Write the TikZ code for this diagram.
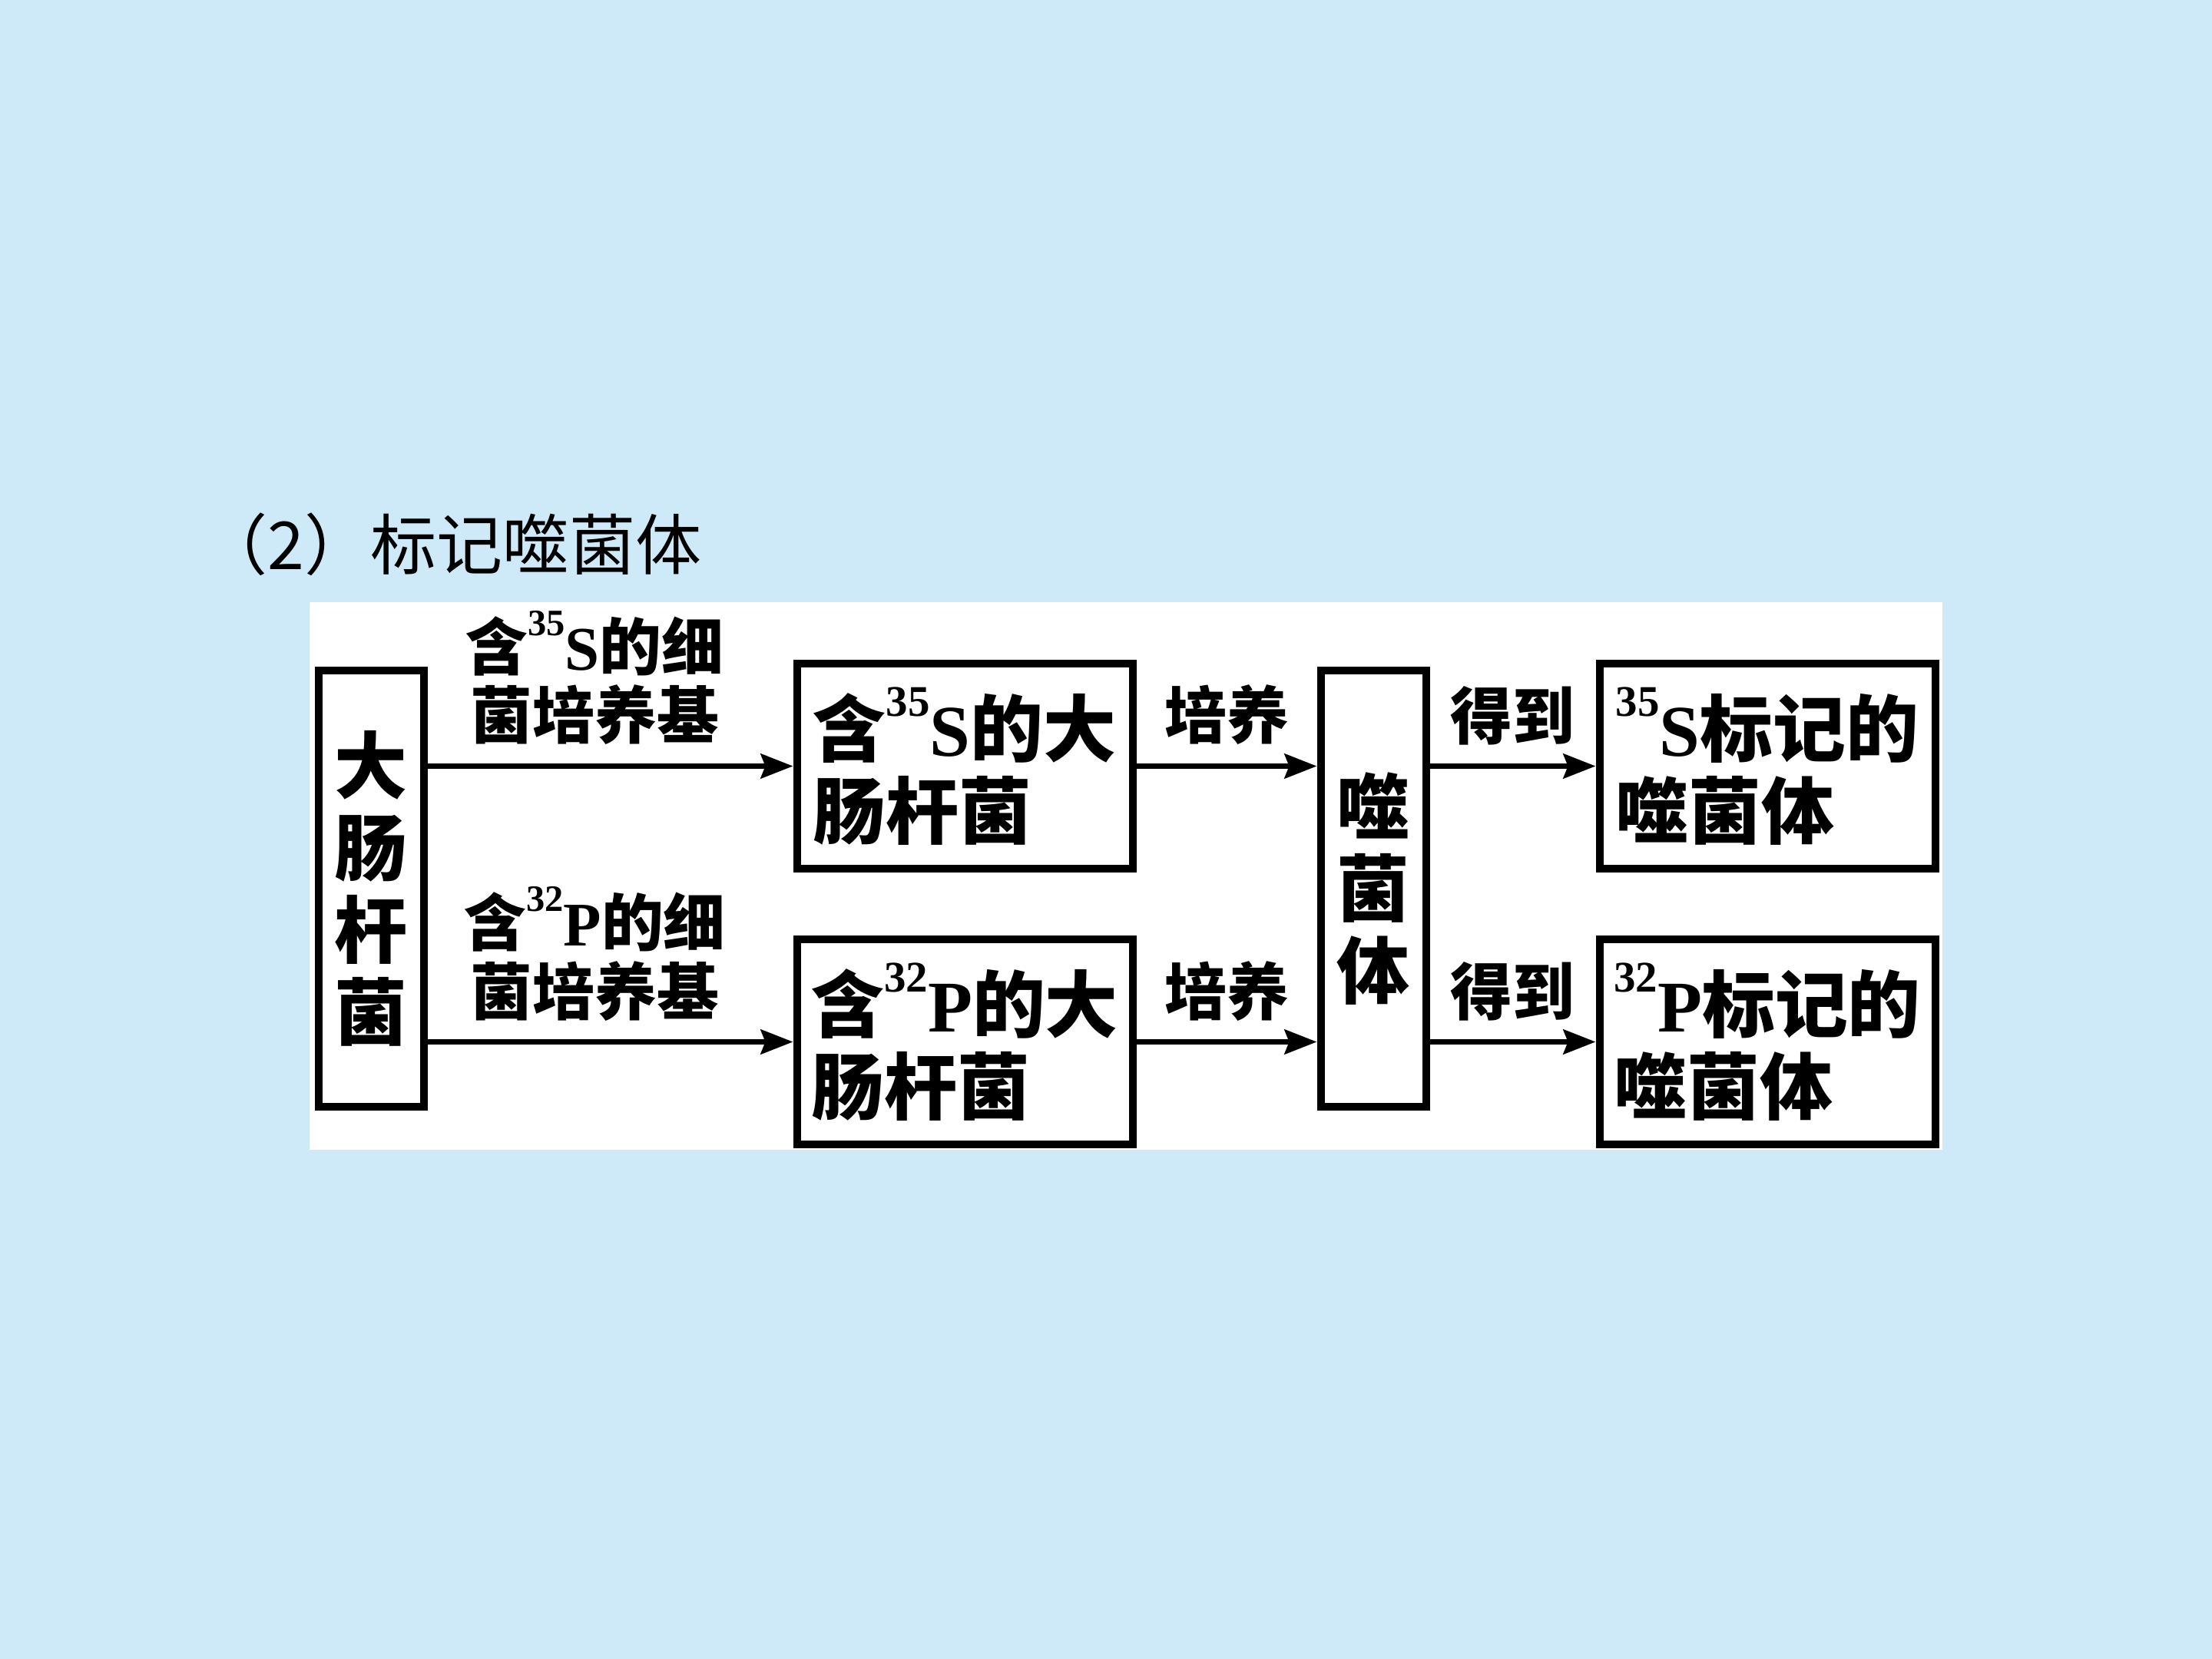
\documentclass[tikz,border=0pt]{standalone}
\usepackage{fontspec}
\setmainfont{Liberation Serif}
\newfontfamily\cjk{Noto Sans CJK SC}
\newfontfamily\lat{Liberation Serif}
\usetikzlibrary{arrows.meta, positioning}
\definecolor{bgblue}{RGB}{206,233,248}
\newcommand{\iso}[2]{{\lat\bfseries\raisebox{0.55em}{\scalebox{0.6}{#1}}#2}}

\begin{document}
\begin{tikzpicture}[
    box/.style={rectangle, draw=black, line width=0.1cm, fill=white,
                minimum width=4.37cm, minimum height=2.67cm, inner sep=0pt,
                align=left, font=\cjk\bfseries\fontsize{27}{30.4}\selectfont},
    tallbox/.style={box, minimum width=1.37cm, minimum height=5.68cm, align=center},
    lbl/.style={inner sep=0pt, align=center,
                font=\cjk\bfseries\fontsize{23}{25.6}\selectfont},
    arr/.style={-{Stealth[length=0.42cm, width=0.32cm, inset=0.06cm]}, line width=0.07cm}
]
\fill[bgblue] (0,0) rectangle (28.8,-21.6);
\useasboundingbox (0,0) rectangle (28.8,-21.6);
\fill[white] (4.03,-7.84) rectangle (25.29,-14.97);

\node[anchor=base west, inner sep=0pt, font=\cjk\fontsize{24.5}{28}\selectfont] (title) at (2.62,-7.42) {（2）标记噬菌体};

\node[tallbox] (ecoli) at (4.83,-11.57) {大\\肠\\杆\\菌};
\node[box] (s35) at (12.56,-9.975) {含\iso{35}{S}的大\\肠杆菌};
\node[box, below=0.82cm of s35] (p32) {含\iso{32}{P}的大\\肠杆菌};
\node[tallbox, right=11.58cm of ecoli] (phage) {噬\\菌\\体};
\node[box, right=5.98cm of s35] (s35ph) {\iso{35}{S}标记的\\噬菌体};
\node[box, right=5.98cm of p32] (p32ph) {\iso{32}{P}标记的\\噬菌体};

\draw[arr] (ecoli.east |- s35) -- node[lbl, above=0.24cm, xshift=-0.2cm] (s35medium) {含\iso{35}{S}的细\\菌培养基} (s35);
\draw[arr] (ecoli.east |- p32) -- node[lbl, above=0.24cm, xshift=-0.2cm] (p32medium) {含\iso{32}{P}的细\\菌培养基} (p32);
\draw[arr] (s35) -- node[lbl, above=0.24cm] (s35culture) {培养} (phage.west |- s35);
\draw[arr] (p32) -- node[lbl, above=0.24cm] (p32culture) {培养} (phage.west |- p32);
\draw[arr] (phage.east |- s35ph) -- node[lbl, above=0.24cm] (s35get) {得到} (s35ph);
\draw[arr] (phage.east |- p32ph) -- node[lbl, above=0.24cm] (p32get) {得到} (p32ph);
\end{tikzpicture}
\end{document}
